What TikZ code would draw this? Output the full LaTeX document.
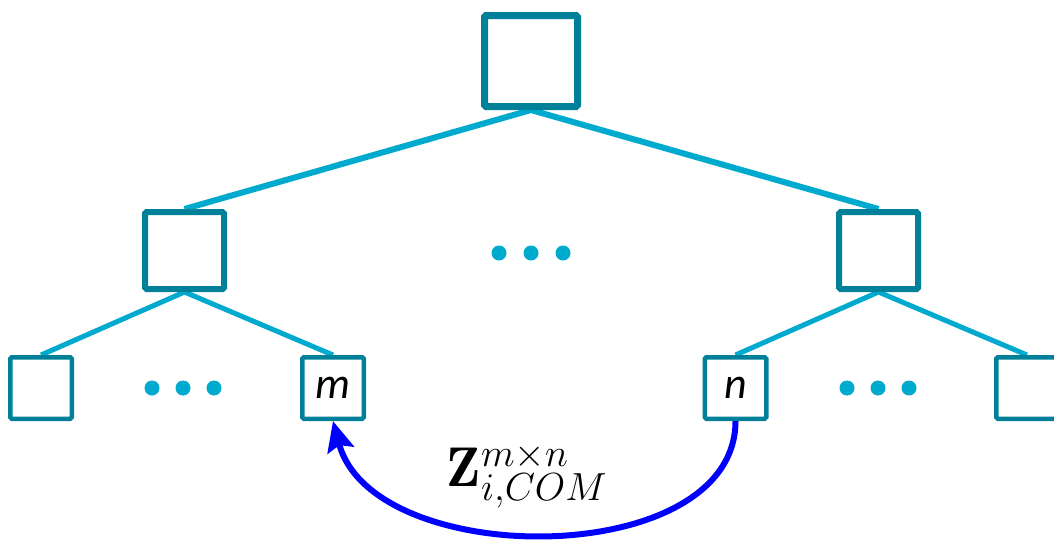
\RequirePackage{fix-cm}
\documentclass[tikz,border=0pt]{standalone}
\usepackage{fontspec}
\newfontfamily\labelfont{Carlito}
\usetikzlibrary{arrows.meta,backgrounds}
\definecolor{boxteal}{RGB}{0,128,153}
\definecolor{edgecyan}{RGB}{0,170,206}
\definecolor{arcblue}{RGB}{0,0,255}
\tikzset{
  treebox/.style={draw=boxteal, fill=white, rounded corners=1.5pt, inner sep=0pt},
  rootbox/.style={treebox, line width=7pt, minimum width=93pt, minimum height=91pt},
  midbox/.style={treebox, line width=6pt, minimum width=79pt, minimum height=77pt},
  leafbox/.style={treebox, line width=4.5pt, minimum width=61.5pt, minimum height=61.5pt,
    font=\labelfont\itshape\fontsize{44}{48}\selectfont},
  dot/.style={circle, fill=edgecyan, inner sep=0pt, minimum size=15pt},
  upper/.style={draw=edgecyan, line width=6pt},
  lower/.style={draw=edgecyan, line width=5pt},
}
\begin{document}
\begin{tikzpicture}[x=1pt, y=-1pt]
\useasboundingbox (0,0) rectangle (1054,539);
\clip (0,0) rectangle (1054,539);

% tree nodes
\node[rootbox] (r) at (531,61) {};
\node[midbox] (ml) at (184.5,250.5) {};
\node[midbox] (mr) at (878.5,250.5) {};
\node[leafbox] (l1) at (41,388) {};
\node[leafbox] (m) at (333,388) {m};
\node[leafbox] (n) at (735.5,388) {n};
\node[leafbox] (l4) at (1027,388) {};

% ellipsis dots
\node[dot] (a1) at (152,388) {};
\node[dot] (a2) at (183,388) {};
\node[dot] (a3) at (214,388) {};
\node[dot] (b1) at (499,253) {};
\node[dot] (b2) at (531,253) {};
\node[dot] (b3) at (563,253) {};
\node[dot] (c1) at (847,388) {};
\node[dot] (c2) at (878,388) {};
\node[dot] (c3) at (909,388) {};

% tree edges behind the boxes
\begin{scope}[on background layer]
  \draw[upper] (r.south) -- (ml.north);
  \draw[upper] (r.south) -- (mr.north);
  \draw[lower] (ml.south) -- (l1.north);
  \draw[lower] (ml.south) -- (m.north);
  \draw[lower] (mr.south) -- (n.north);
  \draw[lower] (mr.south) -- (l4.north);
\end{scope}

% communication arc from n back to m
\draw[arcblue, line width=6pt, -{Stealth[length=30pt, width=27pt, inset=5pt]}]
  (n.south) .. controls +(0,150) and +(40,150) .. (m.south);

\node (z) at (527,476) {\fontsize{56}{60}\selectfont$\mathbf{Z}_{i,COM}^{m\times n}$};
\end{tikzpicture}
\end{document}
